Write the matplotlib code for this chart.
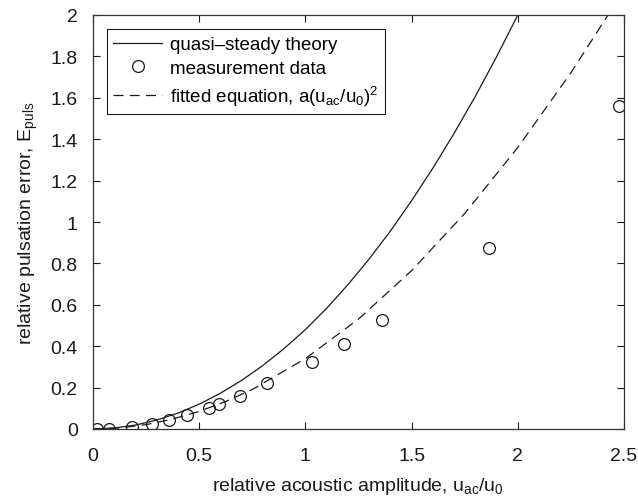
import matplotlib
matplotlib.use("Agg")
import matplotlib.pyplot as plt
from matplotlib.ticker import FuncFormatter

plt.rcParams['font.family'] = ['Liberation Sans', 'DejaVu Sans']
plt.rcParams['mathtext.fontset'] = 'custom'
plt.rcParams['mathtext.rm'] = 'Liberation Sans'
plt.rcParams['mathtext.it'] = 'Liberation Sans:italic'

# measurement data
meas_x = [0.020, 0.077, 0.182, 0.279, 0.356, 0.444, 0.548, 0.595, 0.692, 0.818,
          1.030, 1.182, 1.361, 1.866, 2.475]
meas_y = [0.000, 0.000, 0.008, 0.026, 0.045, 0.068, 0.100, 0.119, 0.161, 0.224,
          0.322, 0.411, 0.527, 0.875, 1.560]

# quasi-steady theory
theory_x = [0.0, 0.1, 0.2, 0.3, 0.4, 0.5, 0.6, 0.7, 0.8, 0.9, 1.0,
            1.1, 1.2, 1.3, 1.4, 1.5, 1.6, 1.7, 1.8, 1.9, 2.0]
theory_y = [0.0, 0.005, 0.019, 0.043, 0.077, 0.120, 0.173, 0.235, 0.307, 0.389, 0.480,
            0.583, 0.697, 0.821, 0.956, 1.103, 1.260, 1.428, 1.607, 1.798, 2.0]

# fitted equation a(u_ac/u0)^2
fit_x = [0.0, 0.125, 0.25, 0.375, 0.5, 0.625, 0.75, 1.0, 1.25, 1.5, 1.75, 2.0, 2.25, 2.425]
fit_y = [0.0, 0.005, 0.021, 0.048, 0.085, 0.133, 0.191, 0.34, 0.531, 0.765, 1.041,
         1.36, 1.721, 2.0]

x_ticks = [0, 0.5, 1, 1.5, 2, 2.5]
y_ticks = [0, 0.2, 0.4, 0.6, 0.8, 1.0, 1.2, 1.4, 1.6, 1.8, 2.0]

FS = 14
fig = plt.figure(figsize=(6.38, 5.02), dpi=100)
ax = fig.add_axes([93/638, 1-430/502, (624-93)/638, (430-16)/502])

ax.plot(theory_x, theory_y, color='#1a1a1a', lw=0.9, label='quasi\u2013steady theory')
ax.plot(meas_x, meas_y, ls='none', marker='o', ms=8.5, mfc='none', mec='#1a1a1a', mew=0.9,
        label='measurement data')
ax.plot(fit_x, fit_y, color='#1a1a1a', lw=0.9, dashes=(8, 5),
        label=r'fitted equation, a(u$_\mathregular{ac}$/u$_\mathregular{0}$)$^\mathregular{2}$')

ax.set_xlim(0, 2.5)
ax.set_ylim(0, 2)
ax.set_xticks(x_ticks)
ax.set_yticks(y_ticks)
fmt = FuncFormatter(lambda v, p: '%g' % round(v, 2))
ax.xaxis.set_major_formatter(fmt)
ax.yaxis.set_major_formatter(fmt)
ax.tick_params(direction='in', length=5, width=0.8, top=True, right=True,
               labelsize=FS, colors='#1a1a1a')
ax.tick_params(axis='x', pad=13)
ax.tick_params(axis='y', pad=11)
for s in ax.spines.values():
    s.set_linewidth(0.9)
    s.set_color('#333333')

ax.set_xlabel(r'relative acoustic amplitude, u$_\mathregular{ac}$/u$_\mathregular{0}$',
              fontsize=FS, color='#1a1a1a')
ax.set_ylabel(r'relative pulsation error, E$_\mathregular{puls}$',
              fontsize=FS, color='#1a1a1a')
ax.xaxis.set_label_coords(0.5, -(487 - 430) / 414, transform=ax.transAxes)
ax.xaxis.label.set_va('center')
ax.yaxis.set_label_coords(-(93 - 28) / 531, 0.5, transform=ax.transAxes)
ax.yaxis.label.set_va('center')

leg = ax.legend(loc='upper left', bbox_to_anchor=(0.026, 0.965), fontsize=13.5,
                frameon=True, fancybox=False, framealpha=1, edgecolor='#1a1a1a',
                handlelength=2.6, handletextpad=0.4, borderpad=0.35, labelspacing=0.35,
                borderaxespad=0)
leg.get_frame().set_linewidth(0.8)

fig.savefig('out.png', dpi=100)
